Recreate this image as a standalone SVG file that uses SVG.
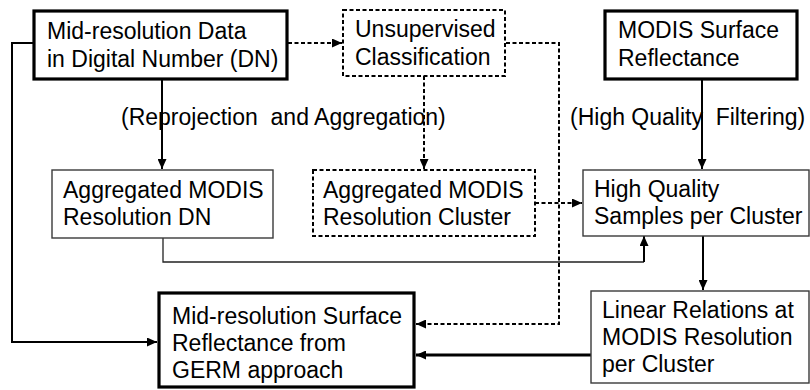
<svg xmlns="http://www.w3.org/2000/svg" width="810" height="390" viewBox="0 0 810 390">
  <defs>
    <marker id="arrow" markerUnits="userSpaceOnUse" markerWidth="10" markerHeight="9" refX="10" refY="4.5" orient="auto">
      <path d="M0,0 L10,4.5 L0,9 z" fill="#000"/>
    </marker>
    <style>
      text { font-family: "Liberation Sans", Arial, sans-serif; font-size: 23px; fill: #000; white-space: pre; }
      .thick { fill: #fff; stroke: #000; stroke-width: 3.2; }
      .thin { fill: #fff; stroke: #3a3a3a; stroke-width: 1.4; }
      .dashbox { fill: #fff; stroke: #000; stroke-width: 2; stroke-dasharray: 4 2.5; }
      .conn { fill: none; stroke: #000; stroke-width: 2; }
      .conn-dash { fill: none; stroke: #000; stroke-width: 2; stroke-dasharray: 4 2.5; }
      .conn-thin { fill: none; stroke: #222; stroke-width: 1.3; }
      .conn-bold { fill: none; stroke: #000; stroke-width: 3; }
    </style>
  </defs>
  <rect width="810" height="390" fill="#fff"/>

  <!-- connectors -->
  <g id="connectors">
    <path class="conn" d="M34,43 H12 V342 H157" marker-end="url(#arrow)"/>
    <path class="conn" d="M162,80 V169" marker-end="url(#arrow)"/>
    <path class="conn-dash" d="M288,43 H342" marker-end="url(#arrow)"/>
    <path class="conn-dash" d="M424,76 V169" marker-end="url(#arrow)"/>
    <path class="conn-dash" d="M506,43 H559 V324 H416" marker-end="url(#arrow)"/>
    <path class="conn-dash" d="M535,203 H582" marker-end="url(#arrow)"/>
    <path class="conn" d="M702,80 V169" marker-end="url(#arrow)"/>
    <path class="conn-thin" d="M163,238 V262 H644"/>
    <path class="conn" d="M644,262 V236" marker-end="url(#arrow)"/>
    <path class="conn" d="M703,236 V290" marker-end="url(#arrow)"/>
    <path class="conn-bold" d="M591,355 H416" marker-end="url(#arrow)"/>
  </g>

  <!-- step labels -->
  <g id="labels">
    <text x="121" y="125">(Reprojection  and Aggregation)</text>
    <text x="570" y="125">(High Quality  Filtering)</text>
  </g>

  <g id="mid-res-dn">
    <rect class="thick" x="34" y="11" width="253" height="68"/>
    <text x="47" y="39">Mid-resolution Data</text>
    <text x="47" y="67">in Digital Number (DN)</text>
  </g>

  <g id="unsupervised">
    <rect class="dashbox" x="343" y="10" width="162" height="66"/>
    <text x="355" y="37">Unsupervised</text>
    <text x="355" y="65">Classification</text>
  </g>

  <g id="modis-sr">
    <rect class="thick" x="605" y="11" width="192" height="68"/>
    <text x="618" y="38">MODIS Surface</text>
    <text x="618" y="66">Reflectance</text>
  </g>

  <g id="agg-dn">
    <rect class="thin" x="52" y="170" width="221" height="68"/>
    <text x="63" y="198">Aggregated MODIS</text>
    <text x="63" y="225">Resolution DN</text>
  </g>

  <g id="agg-cluster">
    <rect class="dashbox" x="313" y="170" width="222" height="66"/>
    <text x="323" y="198">Aggregated MODIS</text>
    <text x="323" y="225">Resolution Cluster</text>
  </g>

  <g id="hq-samples">
    <rect class="thin" x="583" y="170" width="226" height="66"/>
    <text x="594" y="197">High Quality</text>
    <text x="594" y="224">Samples per Cluster</text>
  </g>

  <g id="linear-relations">
    <rect class="thin" x="591" y="291" width="218" height="92"/>
    <text x="602" y="318">Linear Relations at</text>
    <text x="602" y="345">MODIS Resolution</text>
    <text x="602" y="372">per Cluster</text>
  </g>

  <g id="germ-output">
    <rect class="thick" x="159" y="293" width="255" height="94"/>
    <text x="172" y="324">Mid-resolution Surface</text>
    <text x="172" y="351">Reflectance from</text>
    <text x="172" y="378">GERM approach</text>
  </g>
</svg>
